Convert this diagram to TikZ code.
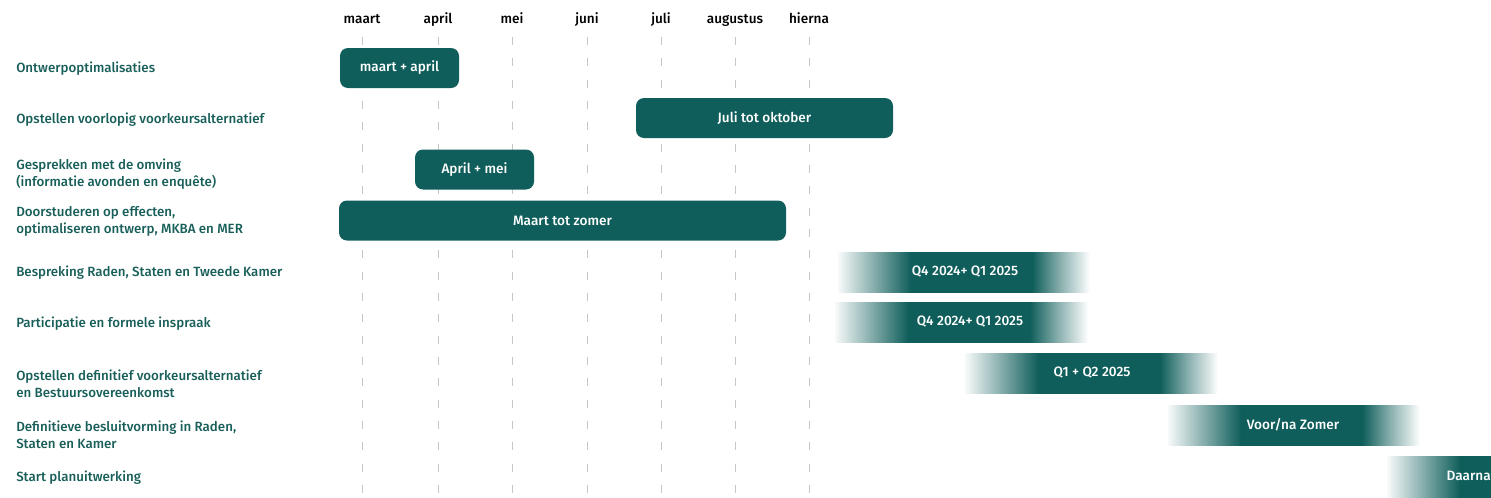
\documentclass[tikz,border=0pt]{standalone}
\usepackage{fontspec}
\setmainfont{Fira Sans}[UprightFont={* Medium}, BoldFont={* SemiBold}]
\definecolor{barteal}{HTML}{0F5E5B}
\definecolor{labteal}{HTML}{185E59}
\definecolor{dashgray}{HTML}{C6C6C6}
\pgfdeclarehorizontalshading{fadebar}{100bp}{color(0bp)=(white); color(25bp)=(white!97!barteal); color(32bp)=(barteal!50); color(39.5bp)=(barteal); color(63.5bp)=(barteal); color(69bp)=(barteal!50); color(75bp)=(white); color(100bp)=(white)}
\begin{document}
\begin{tikzpicture}[x=0.75pt,y=-0.75pt,
  month/.style={font=\fontsize{10.2}{12}\selectfont, text=black, anchor=base, inner sep=0pt},
  rowlab/.style={font=\fontsize{10}{12.75}\selectfont, text=labteal, anchor=west, align=left, inner sep=0pt},
  vline/.style={draw=dashgray, line width=0.75pt, dash pattern=on 6pt off 10pt},
  bar/.style={fill=barteal, rounded corners=6pt, text=white, minimum height=30pt, inner sep=0pt,
     font=\fontsize{10.2}{12}\selectfont},
  fadebox/.style={shading=fadebar},
  fadetext/.style={text=white, inner sep=0pt, font=\fontsize{10.2}{12}\selectfont}]
\useasboundingbox (0,0) rectangle (1491,497);
% month headers and dashed guides
\foreach \n/\x/\t in {m1/362/maart, m2/438/april, m3/512/mei, m4/587/juni, m5/661/juli, m6/735/augustus, m7/809/hierna}{
  \node[month] (\n) at (\x,23) {\t};
  \coordinate (\n b) at (\x,497);
  \draw[vline] (\x,37) -- (\n b);
}
% row labels
\node[rowlab] (l1) at (16,69) {Ontwerpoptimalisaties};
\node[rowlab] (l2) at (16,120) {Opstellen voorlopig voorkeursalternatief};
\node[rowlab] (l3) at (16,174) {Gesprekken met de omving\\(informatie avonden en enquête)};
\node[rowlab] (l4) at (16,221) {Doorstuderen op effecten,\\optimaliseren ontwerp, MKBA en MER};
\node[rowlab] (l5) at (16,273) {Bespreking Raden, Staten en Tweede Kamer};
\node[rowlab] (l6) at (16,324) {Participatie en formele inspraak};
\node[rowlab] (l7) at (16,384) {Opstellen definitief voorkeursalternatief\\en Bestuursovereenkomst};
\node[rowlab] (l8) at (16,435) {Definitieve besluitvorming in Raden,\\Staten en Kamer};
\node[rowlab] (l9) at (16,478) {Start planuitwerking};
% solid bars
\node[bar, minimum width=89.25pt] (b1) at (399.5,68) {maart + april};
\node[bar, minimum width=192.75pt] (b2) at (764.5,118) {Juli tot oktober};
\node[bar, minimum width=89.25pt] (b3) at (474.5,169.5) {April + mei};
\node[bar, minimum width=335.25pt] (b4) at (562.5,220.5) {Maart tot zomer};
% faded bars
\shade[fadebox] (838,252) rectangle (1090,292);
\shade[fadebox] (835,302) rectangle (1088,342);
\shade[fadebox] (965,353) rectangle (1218,393);
\shade[fadebox] (1168,405) rectangle (1420,445);
\begin{scope}
  \clip (0,0) rectangle (1491,497);
  \shade[fadebox] (1387,456) rectangle (1639,497);
\end{scope}
\node[fadetext] (b5) at (965,272) {Q4 2024+ Q1 2025};
\node[fadetext] (b6) at (970,322) {Q4 2024+ Q1 2025};
\node[fadetext] (b7) at (1092,373) {Q1 + Q2 2025};
\node[fadetext] (b8) at (1293,425) {Voor/na Zomer};
\node[fadetext, anchor=east] (b9) at (1491,476) {Daarna};
\end{tikzpicture}
\end{document}
